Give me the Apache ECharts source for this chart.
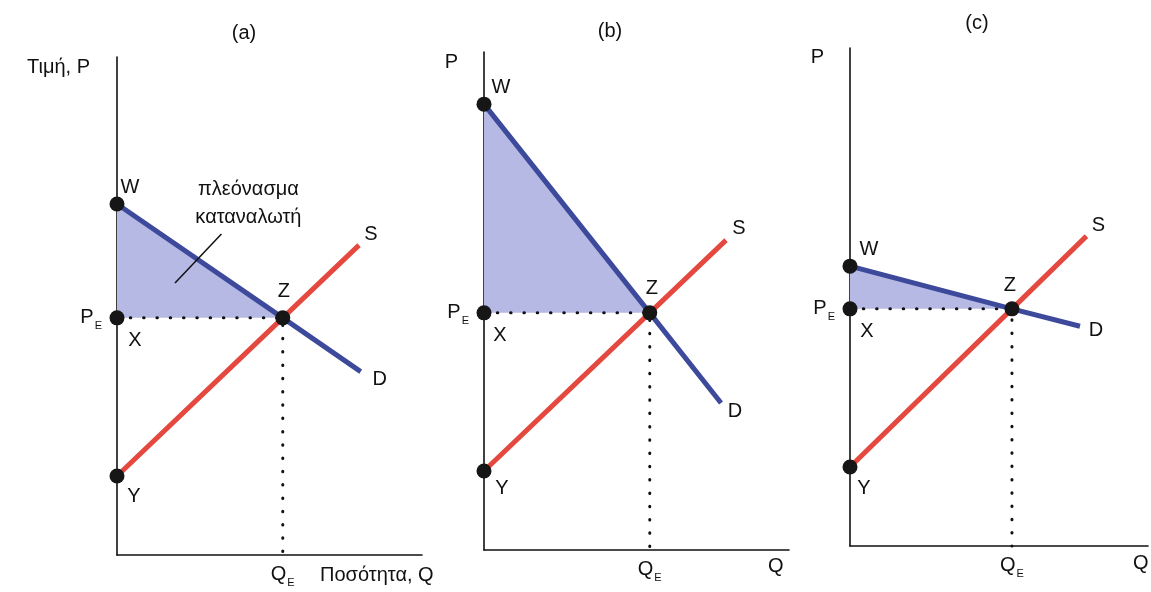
<!DOCTYPE html>
<html>
<head>
<meta charset="utf-8">
<title>Πλεόνασμα καταναλωτή</title>
<script src="https://cdn.jsdelivr.net/npm/echarts@6/dist/echarts.min.js"></script>
<style>
  html, body { margin: 0; padding: 0; background: #fff; }
  #chart { width: 1151px; height: 592px; }
</style>
</head>
<body>
<div id="chart"></div>
<script>
// τιμές σε μονάδες των αξόνων
var panelTitles = ['(a)', '(b)', '(c)'];
var yNames = ['Τιμή, P', 'P', 'P'];
var xNames = ['Ποσότητα, Q', 'Q', 'Q'];
var priceE = 15;            // P_E
var qtyE = 10;              // Q_E
var priceY = 5;             // σημείο Y
var supplyEnd = [14.6, 19.6];
var priceW = [22.2, 28.2, 17.7];
var demandEnd = [[14.7, 11.6], [14.3, 9.3], [14.2, 13.9]];
var noteLeader = [[3.5, 17.2], [6.3, 20.3]];
var noteText = 'πλεόνασμα\nκαταναλωτή';
var qMax = 18.4, pMax = 31.5;

// θέσεις (px)
var gridLeft = [117, 484, 850];
var gridTop = [57, 52, 48];
var offW = [[13, -17], [17, -17], [19, -17]];
var offX = [[18, 23], [16, 23], [17, 23]];
var offY = [[17, 21], [18, 18], [14, 22]];
var offZ = [[1, -26], [2, -24], [-2, -23]];
var offS = [[12, -11], [13, -12], [12, -11]];
var offD = [[19, 8], [14, 9], [16, 4]];
var titlePos = [[244, 33], [610, 31], [977, 23]];
var yNamePos = [[90, 67], [458, 62], [824, 57]];
var xNamePos = [[320, 575], [768, 566], [1133, 563]];

var FONT = '"Liberation Sans", Arial, Helvetica, sans-serif';
var INK = '#111111';
var FILL = '#b5b9e4';
var BLUE = '#3d4a9c';
var RED = '#e5483f';

var myChart = echarts.init(document.getElementById('chart'));

var grids = [], xAxes = [], yAxes = [], series = [], graphics = [];

function subLabel(main) {
    return '{p|' + main + '}{s|E}';
}
var richSub = {
    p: { fontSize: 20, fontFamily: FONT, color: INK },
    s: { fontSize: 11, fontFamily: FONT, color: INK, verticalAlign: 'bottom', padding: [0, 0, -4, 1] }
};

function pointLabel(text, off) {
    return {
        show: true,
        position: 'inside',
        offset: off,
        formatter: text,
        color: INK,
        fontSize: 20,
        fontFamily: FONT,
        align: 'center',
        verticalAlign: 'middle'
    };
}

for (var i = 0; i < 3; i++) {
    grids.push({ left: gridLeft[i], top: gridTop[i], width: 305, height: 498 });

    xAxes.push({
        type: 'value', gridIndex: i, min: 0, max: qMax, interval: qtyE,
        axisLine: { lineStyle: { color: INK, width: 1.6 } },
        axisTick: { show: false },
        splitLine: { show: false },
        axisLabel: {
            margin: 9,
            formatter: function (v) { return Math.abs(v - qtyE) < 1e-6 ? subLabel('Q') : ''; },
            rich: richSub
        }
    });
    yAxes.push({
        type: 'value', gridIndex: i, min: 0, max: pMax, interval: priceE,
        axisLine: { lineStyle: { color: INK, width: 1.6 } },
        axisTick: { show: false },
        splitLine: { show: false },
        axisLabel: {
            margin: 15,
            formatter: function (v) { return Math.abs(v - priceE) < 1e-6 ? subLabel('P') : ''; },
            rich: richSub
        }
    });

    // πλεόνασμα καταναλωτή (τρίγωνο W-X-Z)
    series.push({
        type: 'line', xAxisIndex: i, yAxisIndex: i, z: 1, clip: false, silent: true,
        data: [[0, priceW[i]], [qtyE, priceE]],
        symbol: 'none',
        lineStyle: { width: 0 },
        areaStyle: { color: FILL, opacity: 1, origin: priceE }
    });
    // διακεκομμένες X-Z-Q_E
    series.push({
        type: 'line', xAxisIndex: i, yAxisIndex: i, z: 2, clip: false, silent: true,
        data: [[0, priceE], [qtyE, priceE], [qtyE, 0]],
        symbol: 'none',
        lineStyle: { color: INK, width: 3, type: [0.5, 12.8], cap: 'round' }
    });
    // προσφορά S
    series.push({
        type: 'line', xAxisIndex: i, yAxisIndex: i, z: 3, clip: false, silent: true,
        data: [[0, priceY], [qtyE, priceE], supplyEnd],
        symbol: 'none',
        lineStyle: { color: RED, width: 5 }
    });
    // ζήτηση D
    series.push({
        type: 'line', xAxisIndex: i, yAxisIndex: i, z: 4, clip: false, silent: true,
        data: [[0, priceW[i]], [qtyE, priceE], demandEnd[i]],
        symbol: 'none',
        lineStyle: { color: BLUE, width: 5 }
    });
    // σημεία W, X, Y, Z
    series.push({
        type: 'scatter', xAxisIndex: i, yAxisIndex: i, z: 5, clip: false, silent: true,
        symbolSize: 15,
        itemStyle: { color: '#161616', opacity: 1 },
        data: [
            { value: [0, priceW[i]], label: pointLabel('W', offW[i]) },
            { value: [0, priceE], label: pointLabel('X', offX[i]) },
            { value: [0, priceY], label: pointLabel('Y', offY[i]) },
            { value: [qtyE, priceE], label: pointLabel('Z', offZ[i]) }
        ]
    });
    // ετικέτες S, D
    series.push({
        type: 'scatter', xAxisIndex: i, yAxisIndex: i, z: 5, clip: false, silent: true,
        symbolSize: 0,
        itemStyle: { opacity: 1 },
        data: [
            { value: supplyEnd, label: pointLabel('S', offS[i]) },
            { value: demandEnd[i], label: pointLabel('D', offD[i]) }
        ]
    });

    graphics.push({
        type: 'text', x: titlePos[i][0], y: titlePos[i][1],
        style: { text: panelTitles[i], font: '20px ' + FONT, fill: INK,
                 align: 'center', verticalAlign: 'middle', textAlign: 'center', textVerticalAlign: 'middle' }
    });
    graphics.push({
        type: 'text', x: yNamePos[i][0], y: yNamePos[i][1],
        style: { text: yNames[i], font: '20px ' + FONT, fill: INK,
                 align: 'right', verticalAlign: 'middle', textAlign: 'right', textVerticalAlign: 'middle' }
    });
    graphics.push({
        type: 'text', x: xNamePos[i][0], y: xNamePos[i][1],
        style: { text: xNames[i], font: '20px ' + FONT, fill: INK,
                 align: 'left', verticalAlign: 'middle', textAlign: 'left', textVerticalAlign: 'middle' }
    });
}

// σχόλιο στο (a)
series.push({
    type: 'line', xAxisIndex: 0, yAxisIndex: 0, z: 6, clip: false, silent: true,
    data: noteLeader,
    symbol: 'none',
    lineStyle: { color: INK, width: 1.5 }
});
series.push({
    type: 'scatter', xAxisIndex: 0, yAxisIndex: 0, z: 6, clip: false, silent: true,
    symbolSize: 0,
    itemStyle: { opacity: 1 },
    data: [{
        value: noteLeader[1],
        label: {
            show: true, position: 'inside', offset: [27, -31],
            formatter: noteText, color: INK, fontSize: 20, fontFamily: FONT,
            lineHeight: 28, align: 'center', verticalAlign: 'middle'
        }
    }]
});

myChart.setOption({
    animation: false,
    backgroundColor: '#ffffff',
    grid: grids,
    xAxis: xAxes,
    yAxis: yAxes,
    series: series,
    graphic: graphics
});
</script>
</body>
</html>
